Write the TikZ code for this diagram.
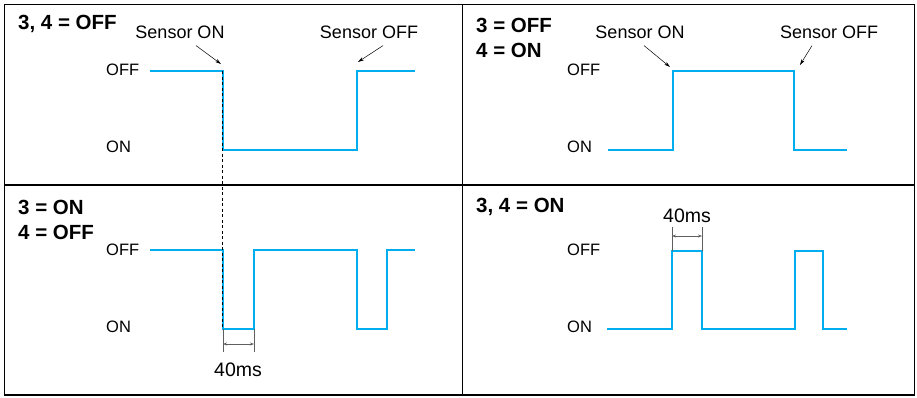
\documentclass[tikz,border=0pt]{standalone}
\usepackage{fontspec}
\setmainfont{Liberation Sans}
\usepackage{tikz}
\usetikzlibrary{arrows.meta, positioning}
\definecolor{sigblue}{RGB}{0,174,239}
\definecolor{dimgray}{RGB}{95,95,95}

\begin{document}
\begin{tikzpicture}[x=1pt, y=-1pt,
  signal/.style={draw=sigblue, line width=2.9pt, line join=miter},
  lvl/.style={font=\fontsize{16.5}{18}\selectfont, anchor=west, inner sep=0pt},
  title/.style={font=\fontsize{20.5}{25}\selectfont\bfseries, anchor=west, align=left, inner sep=0pt},
  tag/.style={font=\fontsize{18}{20}\selectfont, inner sep=0pt},
  pointer/.style={-{Stealth[length=6pt,width=3.5pt]}, line width=0.5pt},
  dim/.style={draw=dimgray, line width=0.7pt}]

\useasboundingbox (0,0) rectangle (917,397);

% frame and panel dividers
\draw[line width=1.1pt] (4.7,4.5) rectangle (914.5,395);
\draw[line width=1.1pt] (462.7,4.5) -- (462.7,395);
\draw[line width=1.1pt] (4.7,185) -- (914.5,185);

% panel titles
\node[title] (tta) at (18,24) {3, 4 = OFF};
\node[title] (ttb) at (476,37.5) {3 = OFF\\4 = ON};
\node[title] (ttc) at (18,219.5) {3 = ON\\4 = OFF};
\node[title] (ttd) at (476,207) {3, 4 = ON};

% level labels
\foreach \x/\yoff/\yon/\p in {106/70/147/a, 567/70/147/b, 106/250/327/c, 567/250/327/d} {
  \node[lvl] (off\p) at (\x,\yoff) {OFF};
  \node[lvl] (on\p) at (\x,\yon) {ON};
}

% signals
\draw[signal] (150,71) -- (223,71) -- (223,150) -- (357,150) -- (357,71) -- (415,71);
\draw[signal] (608,150) -- (673,150) -- (673,71) -- (794,71) -- (794,150) -- (847,150);
\draw[signal] (150,250) -- (223,250) -- (223,329) -- (254,329) -- (254,250) -- (357,250)
  -- (357,329) -- (387,329) -- (387,250) -- (415,250);
\draw[signal] (607,329) -- (672,329) -- (672,251) -- (702,251) -- (702,329) -- (795,329)
  -- (795,251) -- (823,251) -- (823,329) -- (847,329);

% sensor tags with pointers
\node[tag] (sona) at (180,32) {Sensor ON};
\node[tag] (soffa) at (369,32) {Sensor OFF};
\node[tag] (sonb) at (640,32) {Sensor ON};
\node[tag] (soffb) at (829,32) {Sensor OFF};
\coordinate (pona) at (221,64);
\coordinate (poffa) at (358,62);
\coordinate (ponb) at (670,67);
\coordinate (poffb) at (800,65);
\draw[pointer] ([xshift=16pt,yshift=-7pt]sona.south) -- (pona);
\draw[pointer] ([xshift=14pt,yshift=-7pt]soffa.south) -- (poffa);
\draw[pointer] ([xshift=4pt,yshift=-7pt]sonb.south) -- (ponb);
\draw[pointer] ([xshift=-17pt,yshift=-7pt]soffb.south) -- (poffb);

% sensor on reference line
\coordinate (refa) at (222,71);
\coordinate (refb) at (222,329);
\draw[line width=0.6pt, dash pattern=on 3pt off 2.5pt] (refa) -- (refb);

% 40ms dimensions
\coordinate (dca) at (223,329); \coordinate (dca2) at (223,352);
\coordinate (dcb) at (254,329); \coordinate (dcb2) at (254,352);
\coordinate (dcl) at (223,344); \coordinate (dcr) at (254,344);
\draw[dim] (dca) -- (dca2);
\draw[dim] (dcb) -- (dcb2);
\draw[dim, {Stealth[length=4pt,width=3pt]}-{Stealth[length=4pt,width=3pt]}] (dcl) -- (dcr);
\node[tag, font=\fontsize{19.5}{21}\selectfont] (msc) at (238,370) {40ms};

\coordinate (dda) at (672,251); \coordinate (dda2) at (672,227);
\coordinate (ddb) at (702,251); \coordinate (ddb2) at (702,227);
\coordinate (ddl) at (672,236); \coordinate (ddr) at (702,236);
\draw[dim] (dda) -- (dda2);
\draw[dim] (ddb) -- (ddb2);
\draw[dim, {Stealth[length=4pt,width=3pt]}-{Stealth[length=4pt,width=3pt]}] (ddl) -- (ddr);
\node[tag, font=\fontsize{19.5}{21}\selectfont] (msd) at (687,216) {40ms};

\end{tikzpicture}
\end{document}
